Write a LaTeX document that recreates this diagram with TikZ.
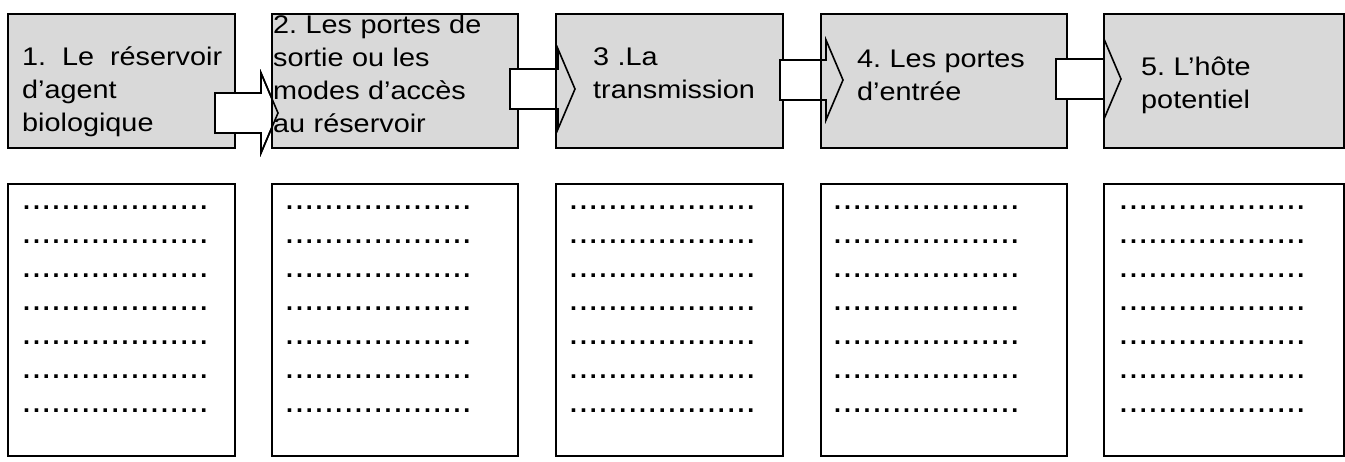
\documentclass[tikz,border=0pt]{standalone}
\usepackage{fontspec}
\newfontfamily\boxfont[FakeStretch=1.13]{Liberation Sans}
\newfontfamily\dotfont[LetterSpace=11.6]{Liberation Sans Bold}
\usetikzlibrary{calc}
\frenchspacing

\tikzset{
  stage/.style={draw,line width=2pt,fill=black!15,rectangle,minimum width=#1,minimum height=134,inner sep=0,anchor=north west},
  answer/.style={draw,line width=2pt,rectangle,minimum width=#1,minimum height=272,inner sep=0,anchor=north west},
  lbl/.style={font=\boxfont\fontsize{25.5}{33.3}\selectfont,align=left,inner sep=0,anchor=base west,text width=#1},
  dots/.style={font=\dotfont\fontsize{25}{33.8}\selectfont,align=left,inner sep=0,anchor=base west,text width=220},
  flowfill/.style={fill=white,draw,line width=1.6pt,line join=miter},
  flowline/.style={draw,line width=1.6pt,line join=miter}
}
% block arrow from shaft start #2 to tip #3
\newcommand{\flowarrow}[3]{\path[#1] ($(#2)+(0,-20)$) -- ($(#3)+(-17,-20)$) -- ($(#3)+(-17,-40)$) -- (#3) -- ($(#3)+(-17,40)$) -- ($(#3)+(-17,20)$) -- ($(#2)+(0,20)$) -- cycle;}
\newcommand{\dotrow}{...................}
\newcommand{\dotlines}{\dotrow\\\dotrow\\\dotrow\\\dotrow\\\dotrow\\\dotrow\\\dotrow}

\begin{document}
\begin{tikzpicture}[x=1pt,y=-1pt]
\useasboundingbox (0,0) rectangle (1345,461);

\node[stage=227] (b1) at (7,13) {};
\coordinate (a1s) at ($(b1.east)+(-21,32)$);
\node[stage=246,draw=none,fill=none] (b2) at (271,13) {};
\coordinate (a1t) at ($(b2.west)+(7,32)$);
\flowarrow{flowfill}{a1s}{a1t}
\node[stage=246] at (b2.north west) {};
\flowarrow{flowline}{a1s}{a1t}

\coordinate (a2s) at ($(b2.east)+(-9,8)$);
\node[stage=227,draw=none,fill=none] (b3) at (555,13) {};
\coordinate (a2t) at ($(b3.west)+(20,8)$);
\flowarrow{flowfill}{a2s}{a2t}
\node[stage=227] at (b3.north west) {};
\flowarrow{flowline}{a2s}{a2t}

\coordinate (a3s) at ($(b3.east)+(-4,-1)$);
\node[stage=246,draw=none,fill=none] (b4) at (820,13) {};
\coordinate (a3t) at ($(b4.west)+(23,-1)$);
\flowarrow{flowfill}{a3s}{a3t}
\node[stage=246] at (b4.north west) {};
\flowarrow{flowline}{a3s}{a3t}

\coordinate (a4s) at ($(b4.east)+(-12,-2)$);
\node[stage=240,draw=none,fill=none] (b5) at (1103,13) {};
\coordinate (a4t) at ($(b5.west)+(18,-2)$);
\flowarrow{flowfill}{a4s}{a4t}
\node[stage=240] at (b5.north west) {};
\flowarrow{flowline}{a4s}{a4t}

\node[lbl=200] (t1) at ($(b1.north west)+(15,52)$) {1.\hfill Le\hfill réservoir\\d’agent\\biologique};
\node[lbl=240] (t2) at ($(b2.north west)+(2,20)$) {2. Les portes de\\sortie ou les\\modes d’accès\\au réservoir};
\node[lbl=185] (t3) at ($(b3.north west)+(38,52)$) {3 .La\\transmission};
\node[lbl=200] (t4) at ($(b4.north west)+(37,54)$) {4. Les portes\\d’entrée};
\node[lbl=195] (t5) at ($(b5.north west)+(38,62)$) {5. L’hôte\\potentiel};

\node[answer=227] (c1) at (7,183) {};
\node[answer=246] (c2) at (271,183) {};
\node[answer=227] (c3) at (555,183) {};
\node[answer=246] (c4) at (820,183) {};
\node[answer=240] (c5) at (1103,183) {};

\node[dots] (d1) at ($(c1.north west)+(16,26.5)$) {\dotlines};
\node[dots] (d2) at ($(c2.north west)+(15,26.5)$) {\dotlines};
\node[dots] (d3) at ($(c3.north west)+(15,26.5)$) {\dotlines};
\node[dots] (d4) at ($(c4.north west)+(14,26.5)$) {\dotlines};
\node[dots] (d5) at ($(c5.north west)+(17,26.5)$) {\dotlines};
\end{tikzpicture}
\end{document}
